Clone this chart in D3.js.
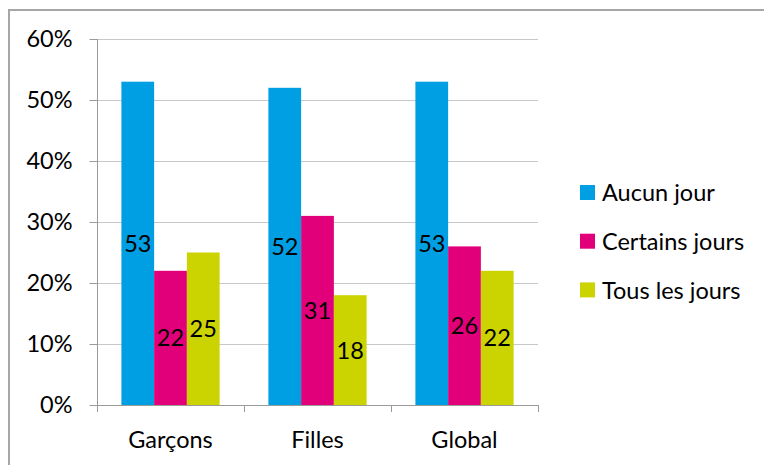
<!DOCTYPE html>
<html>
<head>
<meta charset="utf-8">
<style>
body { margin: 0; background: #fff; }
text { font-family: Lato, "Open Sans", sans-serif; fill: #000; }
</style>
</head>
<body>
<div id="chart"></div>
<script src="https://d3js.org/d3.v7.min.js"></script>
<script>
// data
var categories = ["Garçons", "Filles", "Global"];
var series = ["Aucun jour", "Certains jours", "Tous les jours"];
var aucunJour = [53, 52, 53];
var certainsJours = [22, 31, 26];
var tousLesJours = [25, 18, 22];
var yTicks = [0, 10, 20, 30, 40, 50, 60];
var colors = ["#009fe3", "#e2007a", "#cbd300"];

var width = 764, height = 465;
var values = [aucunJour, certainsJours, tousLesJours];
var fs = 23.5;

var svg = d3.select("#chart").append("svg")
  .attr("width", width)
  .attr("height", height);

// frame (only top and left visible)
svg.append("rect")
  .attr("x", 9).attr("y", 10)
  .attr("width", 800).attr("height", 500)
  .attr("fill", "none")
  .attr("stroke", "#a6a6a6")
  .attr("stroke-width", 2);

var x = d3.scaleBand()
  .domain(categories)
  .range([97, 538]);

var x1 = d3.scaleBand()
  .domain(series)
  .range([0, x.bandwidth()])
  .paddingInner(0)
  .paddingOuter(0.745);

var y = d3.scaleLinear()
  .domain([0, 60])
  .range([405, 39]);

// gridlines
svg.append("g")
  .selectAll("line")
  .data(yTicks.slice(1))
  .enter().append("line")
    .attr("x1", 97).attr("x2", 538)
    .attr("y1", function(d) { return y(d) + 0.5; })
    .attr("y2", function(d) { return y(d) + 0.5; })
    .attr("stroke", "#c8c8c8")
    .attr("stroke-width", 1);

// bars
var groups = svg.append("g")
  .selectAll("g")
  .data(series)
  .enter().append("g")
    .attr("fill", function(d, i) { return colors[i]; });

function rows(s, si) {
  return categories.map(function(c, ci) { return {cat: c, ser: s, v: values[si][ci]}; });
}

groups.selectAll("rect")
  .data(rows)
  .enter().append("rect")
    .attr("x", function(d) { return x(d.cat) + x1(d.ser); })
    .attr("y", function(d) { return y(d.v); })
    .attr("width", x1.bandwidth())
    .attr("height", function(d) { return y(0) - y(d.v); });

groups.selectAll("text")
  .data(rows)
  .enter().append("text")
    .attr("x", function(d) { return x(d.cat) + x1(d.ser) + x1.bandwidth() / 2; })
    .attr("y", function(d) { return (y(d.v) + y(0)) / 2; })
    .attr("dy", "0.36em")
    .attr("text-anchor", "middle")
    .attr("font-size", fs)
    .text(function(d) { return d.v; });

// y axis
var yAxis = svg.append("g")
  .attr("transform", "translate(97.5,0)")
  .call(d3.axisLeft(y)
    .tickValues(yTicks)
    .tickSize(8)
    .tickPadding(17)
    .tickFormat(function(d) { return d + "%"; }));
yAxis.select(".domain").attr("stroke", "#9a9a9a").attr("d", "M0,39V405");
yAxis.selectAll(".tick line").attr("stroke", "#9a9a9a");
yAxis.selectAll("text").attr("font-size", fs).attr("font-family", "Lato, sans-serif").attr("fill", "#000");

// x axis
var xAxis = svg.append("g")
  .attr("transform", "translate(0,405.5)")
  .call(d3.axisBottom(x).tickSize(0).tickPadding(0));
xAxis.select(".domain").attr("stroke", "#9a9a9a").attr("d", "M97,0H538");
xAxis.selectAll("text")
  .attr("y", 42).attr("dy", null)
  .attr("font-size", fs).attr("font-family", "Lato, sans-serif").attr("fill", "#000");

svg.append("g")
  .selectAll("line")
  .data([97, 244, 391, 538])
  .enter().append("line")
    .attr("x1", function(d) { return d + 0.5; })
    .attr("x2", function(d) { return d + 0.5; })
    .attr("y1", 405).attr("y2", 412)
    .attr("stroke", "#9a9a9a");

// legend
var legend = svg.append("g")
  .selectAll("g")
  .data(series)
  .enter().append("g")
    .attr("transform", function(d, i) { return "translate(580," + (185 + i * 48.7) + ")"; });

legend.append("rect")
  .attr("width", 15)
  .attr("height", 15)
  .attr("fill", function(d, i) { return colors[i]; });

legend.append("text")
  .attr("x", 22)
  .attr("y", 8)
  .attr("dy", "0.36em")
  .attr("font-size", fs)
  .text(function(d) { return d; });
</script>
</body>
</html>
